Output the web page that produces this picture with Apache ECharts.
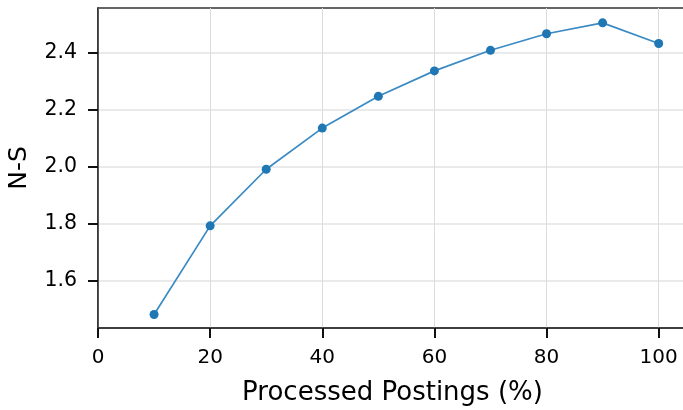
<!DOCTYPE html>
<html>
<head>
<meta charset="utf-8">
<script src="https://cdn.jsdelivr.net/npm/echarts@6/dist/echarts.min.js"></script>
<style>html,body{margin:0;padding:0;background:#fff}#c{width:683px;height:410px}</style>
</head>
<body>
<div id="c"></div>
<script>
const xValues = [10, 20, 30, 40, 50, 60, 70, 80, 90, 100];
const nsValues = [1.483, 1.793, 1.991, 2.135, 2.246, 2.335, 2.407, 2.465, 2.503, 2.431];
const xTicks = [0, 20, 40, 60, 80, 100];
const yTicks = [1.6, 1.8, 2.0, 2.2, 2.4];

const FONT = 'DejaVu Sans';
const chart = echarts.init(document.getElementById('c'), null, {renderer: 'canvas'});
chart.setOption({
  animation: false,
  backgroundColor: '#fff',
  grid: {left: 98, right: -4, top: 8, bottom: 82, containLabel: false, outerBoundsMode: 'none',
    show: true, borderColor: '#333', borderWidth: 1.6, backgroundColor: 'transparent'},
  xAxis: {
    type: 'value', min: 0, max: 105.05, interval: 20,
    name: 'Processed Postings (%)', nameLocation: 'middle', nameGap: 52,
    nameTextStyle: {fontFamily: FONT, fontSize: 26, color: '#000'},
    axisLine: {show: true, onZero: false, lineStyle: {color: '#333', width: 1.6}},
    axisTick: {show: true, inside: false, length: 10, customValues: xTicks, lineStyle: {color: '#111', width: 2}},
    axisLabel: {customValues: xTicks, margin: 20, fontFamily: FONT, fontSize: 20, color: '#000',
      formatter: v => String(v)},
    splitLine: {show: true, lineStyle: {color: '#dcdcdc', width: 1}}
  },
  yAxis: {
    type: 'value', min: 1.4356, max: 2.555,
    name: 'N-S', nameLocation: 'middle', nameGap: 66, nameRotate: 90,
    nameTextStyle: {fontFamily: FONT, fontSize: 25, color: '#000'},
    axisLine: {show: true, lineStyle: {color: '#333', width: 1.6}},
    axisTick: {show: true, length: 10, customValues: yTicks, lineStyle: {color: '#111', width: 2}},
    axisLabel: {customValues: yTicks, margin: 21, fontFamily: FONT, fontSize: 20.5, color: '#000',
      formatter: v => v.toFixed(1)},
    splitLine: {show: true, lineStyle: {color: '#e3e3e3', width: 1.5}}
  },
  series: [{
    type: 'line',
    data: xValues.map((x, i) => [x, nsValues[i]]),
    symbol: 'circle', symbolSize: 9,
    itemStyle: {color: '#1f77b4'},
    lineStyle: {color: '#3a8ac4', width: 1.7}
  }]
});
</script>
</body>
</html>
